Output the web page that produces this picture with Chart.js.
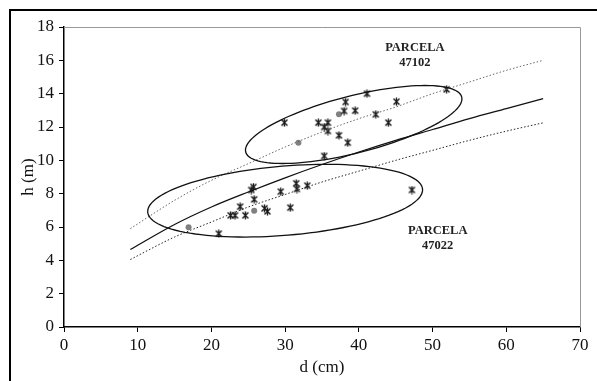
<!DOCTYPE html>
<html>
<head>
<meta charset="utf-8">
<script src="https://cdn.jsdelivr.net/npm/chart.js@4/dist/chart.umd.min.js"></script>
<style>
  body { margin: 0; background: #fff; }
  #wrap { position: relative; width: 597px; height: 381px; }
  #frame { position: absolute; left: 9px; top: 9px; right: -10px; bottom: -10px; border-left: 2.5px solid #000; border-top: 2.5px solid #000; }
  canvas { position: absolute; left: 0; top: 0; }
</style>
</head>
<body>
<div id="wrap">
  <div id="frame"></div>
  <canvas id="c" width="597" height="381"></canvas>
</div>
<script>
// individual trees, d (cm) / h (m)
const plot47102 = [[29.9,12.26],[41.1,14.0],[38.2,13.5],[38.0,12.96],[39.5,12.98],[42.3,12.76],
  [34.5,12.26],[35.8,12.26],[35.3,12.0],[35.8,11.76],[37.3,11.5],[38.5,11.06],[35.3,10.26],
  [51.9,14.26],[45.1,13.52],[44.0,12.26]];
const plot47022 = [[21.0,5.6],[25.7,8.4],[25.4,8.22],[25.8,7.66],[23.9,7.22],[22.6,6.7],[23.2,6.7],
  [24.6,6.7],[27.2,7.12],[27.6,6.94],[29.4,8.12],[30.7,7.16],[31.5,8.62],[31.6,8.28],[33.0,8.48],
  [47.2,8.22]];
// grey dots
const means = [[31.8,11.06],[37.3,12.76],[16.9,5.98],[25.8,6.98]];

// fitted curves
const curveD     = [9, 15, 20, 25, 30, 35, 40, 45, 50, 55, 60, 65];
const curveAll   = [4.65, 6.15, 7.2, 8.1, 8.95, 9.75, 10.5, 11.2, 11.85, 12.5, 13.1, 13.7];
const curveUpper = [5.9, 7.6, 8.8, 9.8, 10.8, 11.7, 12.5, 13.2, 14.0, 14.7, 15.4, 16.0];
const curveLower = [4.05, 5.4, 6.3, 7.2, 7.95, 8.7, 9.35, 10.0, 10.6, 11.2, 11.75, 12.25];

// ellipses: centre, first and second semi-diameter (data units)
const ellipse47102 = [[39.3, 12.15], [14.65, 1.65], [0.96, -1.66]];
const ellipse47022 = [[30.0, 7.58], [18.64, 0.69], [0.39, -2.07]];

const labels = [
  { text: ['PARCELA', '47102'], at: [47.6, 16.75] },
  { text: ['PARCELA', '47022'], at: [50.7, 5.8] }
];

const xTicks = [0, 70, 10];
const yTicks = [0, 18, 2];

const xy = arr => arr.map(p => ({ x: p[0], y: p[1] }));
const curve = ys => curveD.map((d, i) => ({ x: d, y: ys[i] }));

// asterisk marker
const star = document.createElement('canvas');
star.width = 9; star.height = 9;
(function () {
  const g = star.getContext('2d');
  g.strokeStyle = '#1a1a1a';
  g.lineWidth = 1.4;
  g.beginPath();
  g.moveTo(1.5, 1.5); g.lineTo(7.5, 7.5);
  g.moveTo(7.5, 1.5); g.lineTo(1.5, 7.5);
  g.moveTo(4.5, 0.5); g.lineTo(4.5, 8.5);
  g.stroke();
})();

const extras = {
  id: 'extras',
  beforeDatasetsDraw(chart) {
    const { ctx, chartArea: a } = chart;
    ctx.save();
    ctx.strokeStyle = '#999';
    ctx.lineWidth = 1;
    ctx.beginPath();
    ctx.moveTo(a.left, a.top + 0.5);
    ctx.lineTo(a.right + 0.5, a.top + 0.5);
    ctx.lineTo(a.right + 0.5, a.bottom);
    ctx.stroke();
    ctx.restore();
  },
  afterDatasetsDraw(chart) {
    const { ctx, scales: { x, y } } = chart;
    ctx.save();
    ctx.strokeStyle = '#111';
    ctx.lineWidth = 1.3;
    [ellipse47102, ellipse47022].forEach(([c, u, v]) => {
      ctx.beginPath();
      for (let i = 0; i <= 120; i++) {
        const t = i / 120 * Math.PI * 2;
        const px = x.getPixelForValue(c[0] + Math.cos(t) * u[0] + Math.sin(t) * v[0]);
        const py = y.getPixelForValue(c[1] + Math.cos(t) * u[1] + Math.sin(t) * v[1]);
        i ? ctx.lineTo(px, py) : ctx.moveTo(px, py);
      }
      ctx.closePath();
      ctx.stroke();
    });
    ctx.fillStyle = '#222';
    ctx.font = 'bold 12.5px "Liberation Serif"';
    ctx.textAlign = 'center';
    ctx.textBaseline = 'middle';
    labels.forEach(l => {
      const px = x.getPixelForValue(l.at[0]);
      const py = y.getPixelForValue(l.at[1]);
      l.text.forEach((s, i) => ctx.fillText(s, px, py + i * 15));
    });
    ctx.restore();
  }
};

const lineDs = (data, dash, color) => ({
  type: 'line', data, borderColor: color, borderWidth: dash.length ? 1 : 1.3, borderDash: dash,
  pointRadius: 0, tension: 0.4, cubicInterpolationMode: 'monotone', fill: false
});

const font = { family: '"Liberation Serif"', size: 17 };

new Chart(document.getElementById('c'), {
  type: 'scatter',
  data: {
    datasets: [
      lineDs(curve(curveAll), [], '#111'),
      lineDs(curve(curveUpper), [1.5, 2], '#666'),
      lineDs(curve(curveLower), [1.5, 2], '#222'),
      { data: xy(plot47102), pointStyle: star, pointRadius: 4.5 },
      { data: xy(plot47022), pointStyle: star, pointRadius: 4.5 },
      { data: xy(means), pointStyle: 'circle', pointRadius: 3, backgroundColor: '#808080', borderColor: '#808080', borderWidth: 0 }
    ]
  },
  options: {
    responsive: false,
    animation: false,
    layout: { padding: { left: 10, top: 27, right: 17, bottom: 0 } },
    plugins: { legend: { display: false }, tooltip: { enabled: false } },
    scales: {
      x: {
        type: 'linear', min: xTicks[0], max: xTicks[1],
        afterFit: s => { s.height = 54; },
        ticks: { stepSize: xTicks[2], color: '#111', font, padding: 3 },
        grid: { drawOnChartArea: false, drawTicks: true, tickLength: 5, color: '#000', lineWidth: 1 },
        border: { color: '#000', width: 1.5 },
        title: { display: true, text: 'd (cm)', color: '#111', font, padding: { top: 0, bottom: 3 } }
      },
      y: {
        type: 'linear', min: yTicks[0], max: yTicks[1],
        afterFit: s => { s.width = 54; },
        ticks: { stepSize: yTicks[2], color: '#111', font, padding: 5 },
        grid: { drawOnChartArea: false, drawTicks: true, tickLength: 5, color: '#000', lineWidth: 1 },
        border: { color: '#000', width: 1.5 },
        title: { display: true, text: 'h (m)', color: '#111', font, padding: { top: 8, bottom: 0 } }
      }
    }
  },
  plugins: [extras]
});
</script>
</body>
</html>
